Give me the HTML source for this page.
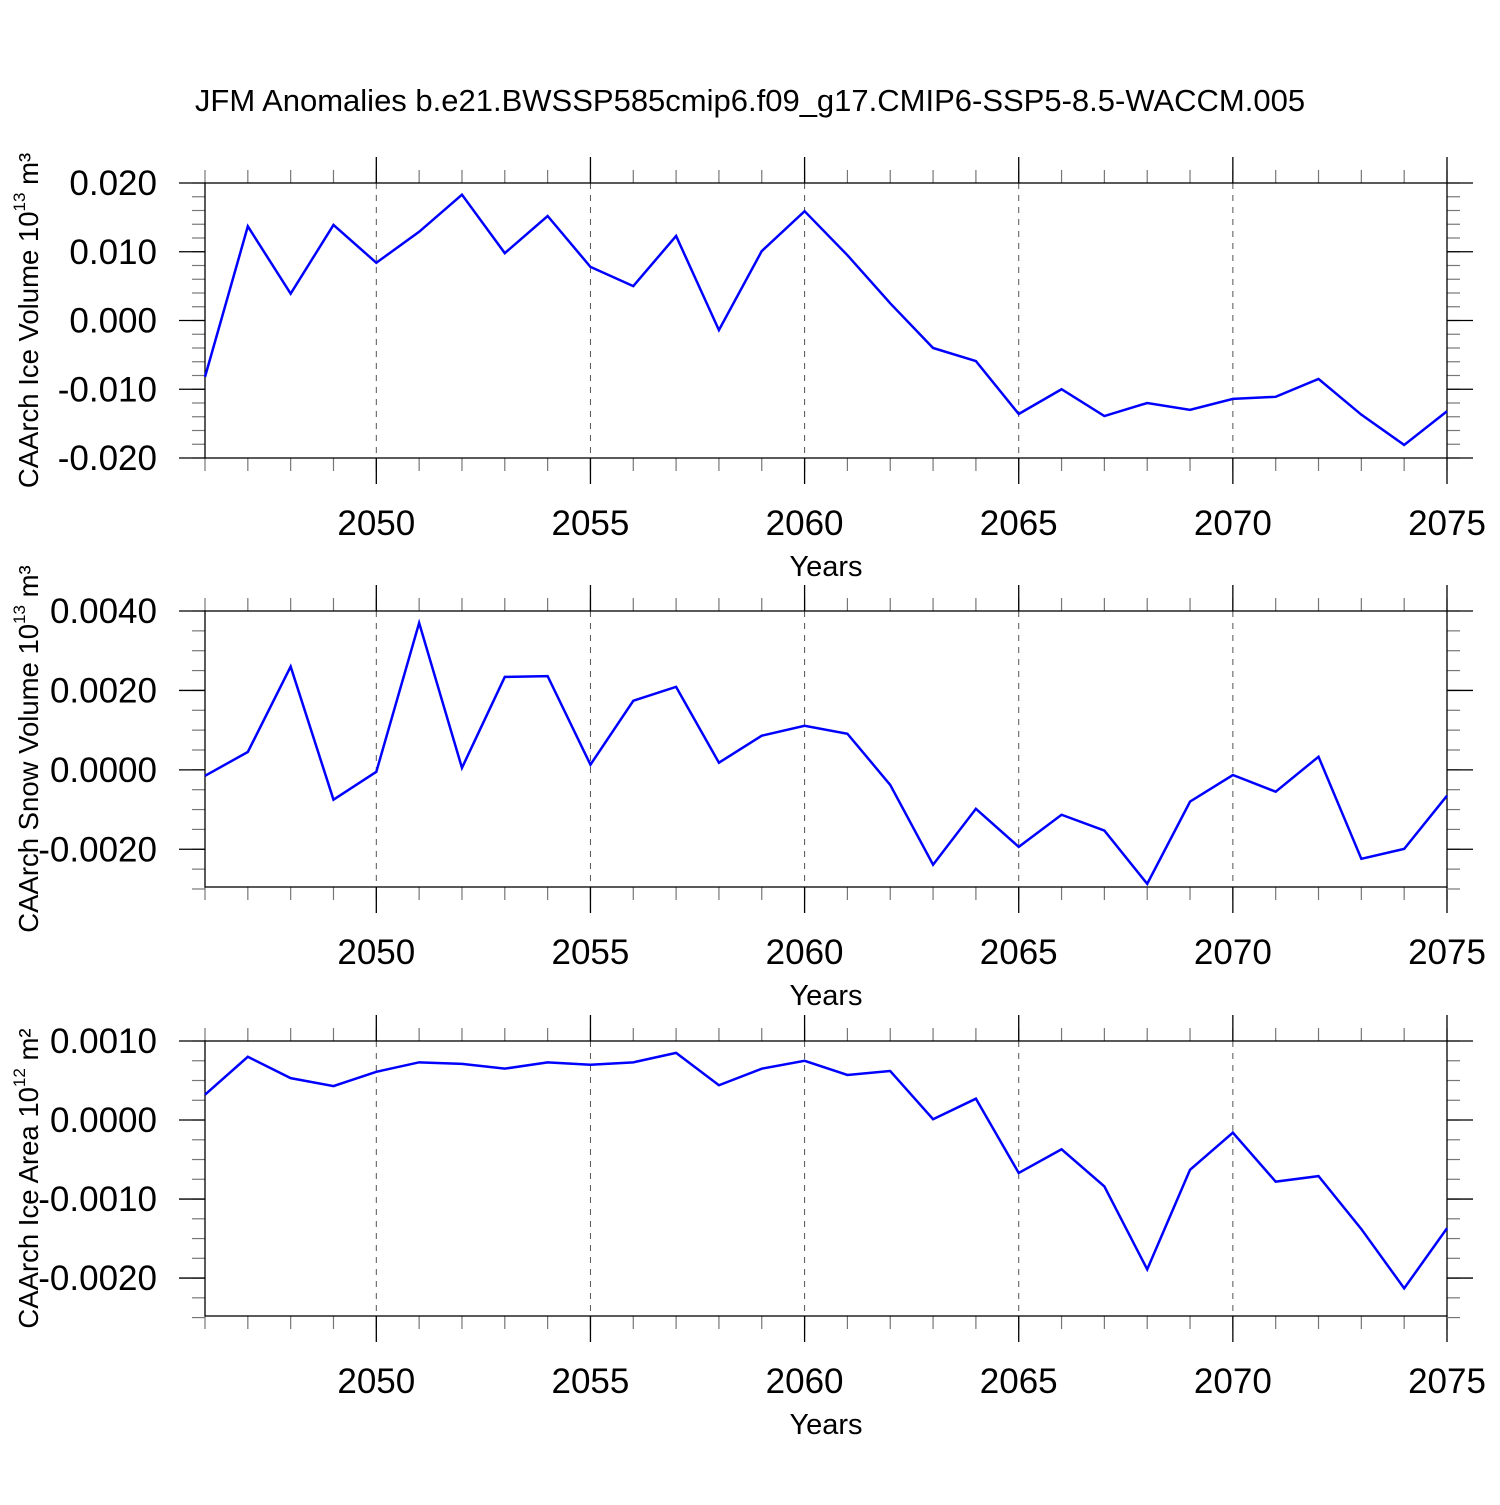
<!DOCTYPE html>
<html><head><meta charset="utf-8"><style>
body{margin:0;background:#fff}
svg text{font-family:"Liberation Sans",sans-serif;fill:#000}
</style></head><body>
<svg id="c" width="1500" height="1500" xmlns="http://www.w3.org/2000/svg">
<text x="750" y="111" font-size="31" text-anchor="middle">JFM Anomalies b.e21.BWSSP585cmip6.f09_g17.CMIP6-SSP5-8.5-WACCM.005</text>
</svg>
<script>
const years = [2046,2047,2048,2049,2050,2051,2052,2053,2054,2055,2056,2057,2058,2059,2060,2061,2062,2063,2064,2065,2066,2067,2068,2069,2070,2071,2072,2073,2074,2075];
const iceVolume = [-0.0082,0.0137,0.0039,0.0139,0.0084,0.0129,0.0183,0.0098,0.0152,0.0078,0.0050,0.0123,-0.0014,0.0101,0.0159,0.0095,0.0025,-0.0040,-0.0059,-0.0136,-0.0100,-0.0139,-0.0120,-0.0130,-0.0114,-0.0111,-0.0085,-0.0137,-0.0181,-0.0132];
const snowVolume = [-0.00015,0.00045,0.0026,-0.00075,-0.00005,0.0037,0.00005,0.00234,0.00236,0.00013,0.00174,0.00209,0.00018,0.00086,0.00111,0.00091,-0.00038,-0.00239,-0.00098,-0.00194,-0.00113,-0.00153,-0.00287,-0.0008,-0.00013,-0.00055,0.00033,-0.00224,-0.00199,-0.00065];
const iceArea = [0.00032,0.0008,0.00053,0.00043,0.00061,0.00073,0.00071,0.00065,0.00073,0.0007,0.00073,0.00085,0.00044,0.00065,0.00075,0.00057,0.00062,0.00001,0.00027,-0.00067,-0.00037,-0.00084,-0.00189,-0.00063,-0.00016,-0.00078,-0.00071,-0.00138,-0.00213,-0.00137];
const xTicks = [2050,2055,2060,2065,2070,2075];
const ticks1 = ["0.020","0.010","0.000","-0.010","-0.020"];
const ticks2 = ["0.0040","0.0020","0.0000","-0.0020"];
const ticks3 = ["0.0010","0.0000","-0.0010","-0.0020"];

const svg = document.getElementById('c');
const NS = 'http://www.w3.org/2000/svg';
const X0=205, X1=1447;
const xs = y => X0 + (y-2046)/(2075-2046)*(X1-X0);
function mk(tag, attrs, parent){const e=document.createElementNS(NS,tag);for(const k in attrs)e.setAttribute(k,attrs[k]);(parent||svg).appendChild(e);return e;}

function panel(key, top, bottom, ymax, ymin, ticks, minorStep, data, ylabelMain, sup, unit){
  const g = mk('g',{});
  
  
  const ys = v => top + (ymax - v)/(ymax - ymin)*(bottom-top);
  xTicks.forEach(t=>{ if(t<2075){ const l=mk('line',{x1:xs(t),x2:xs(t),y1:top,y2:bottom,stroke:'#555','stroke-width':1,'stroke-dasharray':'6,6'},g);
    
    }});
  years.forEach(y=>{
    mk('line',{x1:xs(y),x2:xs(y),y1:top-13,y2:top,stroke:'#777','stroke-width':1.2},g);
    mk('line',{x1:xs(y),x2:xs(y),y1:bottom,y2:bottom+13,stroke:'#777','stroke-width':1.2},g);
  });
  xTicks.forEach(t=>{
    mk('line',{x1:xs(t),x2:xs(t),y1:top-26,y2:top,stroke:'#000','stroke-width':1.3},g);
    mk('line',{x1:xs(t),x2:xs(t),y1:bottom,y2:bottom+26,stroke:'#000','stroke-width':1.3},g);
    const tx=mk('text',{x:xs(t),y:bottom+77,'font-size':35,'text-anchor':'middle'},g);
    tx.textContent=t;
    
    
  });
  const n = Math.round((ymax-ymin)/minorStep);
  for(let i=0;i<=n;i++){const v=ymax-i*minorStep; const yy=ys(v);
    mk('line',{x1:X0-13,x2:X0,y1:yy,y2:yy,stroke:'#777','stroke-width':1.2},g);
    mk('line',{x1:X1,x2:X1+13,y1:yy,y2:yy,stroke:'#777','stroke-width':1.2},g);}
  ticks.forEach(s=>{const yy=ys(parseFloat(s));
    mk('line',{x1:X0-26,x2:X0,y1:yy,y2:yy,stroke:'#000','stroke-width':1.3},g);
    mk('line',{x1:X1,x2:X1+26,y1:yy,y2:yy,stroke:'#000','stroke-width':1.3},g);
    const tx=mk('text',{x:157,y:yy+12,'font-size':35,'text-anchor':'end'},g);
    tx.textContent=s;
    
    
  });
  const box=mk('rect',{x:X0,y:top,width:X1-X0,height:bottom-top,fill:'none',stroke:'#000','stroke-width':1.3},g);
  
  
  const pts=years.map((y,i)=>xs(y)+','+ys(data[i])).join(' ');
  const pl=mk('polyline',{points:pts,fill:'none',stroke:'#0000ff','stroke-width':2.5,'stroke-linejoin':'miter'},g);
  
  
  const xt=mk('text',{x:826,y:bottom+118,'font-size':29,'text-anchor':'middle'},g);
  xt.textContent='Years';
  
  
  const mid=(top+bottom)/2;
  const yt=mk('text',{x:0,y:0,'font-size':27.5,'text-anchor':'middle',transform:`translate(38,${mid}) rotate(-90)`},g);
  
  
  yt.appendChild(document.createTextNode(ylabelMain));
  const ts=mk('tspan',{dy:-13,'font-size':17},yt); ts.textContent=sup;
  const tu=mk('tspan',{dy:13},yt); tu.textContent=unit;
}
panel('ice-volume',183,458,0.020,-0.020,ticks1,0.002,iceVolume,'CAArch Ice Volume 10','13',' m³');
panel('snow-volume',611,887,0.004,-0.00295,ticks2,0.0005,snowVolume,'CAArch Snow Volume 10','13',' m³');
panel('ice-area',1041,1316,0.001,-0.00248,ticks3,0.00025,iceArea,'CAArch Ice Area 10','12',' m²');
</script>
</body></html>
